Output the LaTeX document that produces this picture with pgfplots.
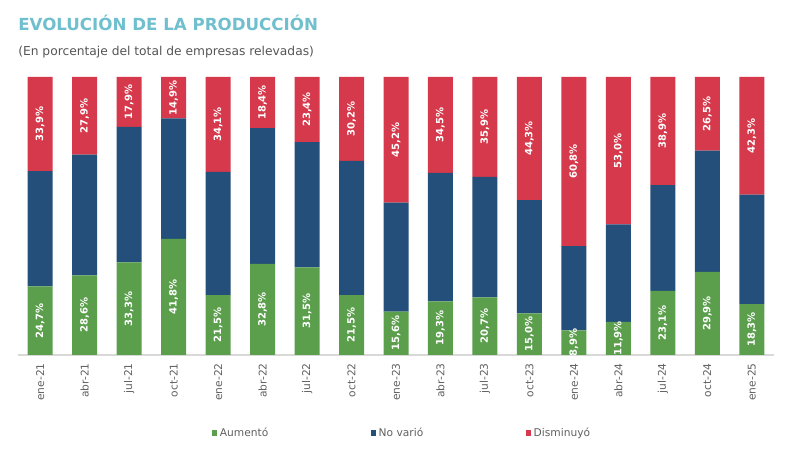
\documentclass[border=0pt]{standalone}
\usepackage{pgfplots}
\usepackage{pgfplotstable}
\pgfplotsset{compat=1.18}
\usepackage{fontspec}
\setmainfont{DejaVu Sans}

\definecolor{aumento}{HTML}{5B9F4D}
\definecolor{novario}{HTML}{244F7A}
\definecolor{disminuyo}{HTML}{D6394B}
\definecolor{titulo}{HTML}{6FBFCE}
\definecolor{texto}{HTML}{555555}
\definecolor{ticks}{HTML}{606060}
\definecolor{eje}{HTML}{D9D9D9}

% Share of surveyed firms (%) by quarter
\pgfplotstableread{
x  aum  nov  dis
0  24.7 41.4 33.9
1  28.6 43.5 27.9
2  33.3 48.8 17.9
3  41.8 43.3 14.9
4  21.5 44.4 34.1
5  32.8 48.8 18.4
6  31.5 45.1 23.4
7  21.5 48.3 30.2
8  15.6 39.2 45.2
9  19.3 46.2 34.5
10 20.7 43.4 35.9
11 15.0 40.7 44.3
12 8.9  30.3 60.8
13 11.9 35.1 53.0
14 23.1 38.0 38.9
15 29.9 43.6 26.5
16 18.3 39.4 42.3
}\datos

\begin{document}
\begin{tikzpicture}
\useasboundingbox (0,0) rectangle (594.75pt,342pt);
\node[anchor=base west, inner sep=0pt, text=titulo, font=\bfseries\fontsize{12.5}{14}\selectfont]
  at (13.5pt,318.75pt) {EVOLUCIÓN DE LA PRODUCCIÓN};
\node[anchor=base west, inner sep=0pt, text=texto, font=\fontsize{9.2}{11}\selectfont]
  at (13.5pt,300.5pt) {(En porcentaje del total de empresas relevadas)};
\begin{axis}[
  at={(13.5pt,75.75pt)}, anchor=south west,
  scale only axis, width=567pt, height=208.5pt,
  clip=false,
  ybar stacked, bar width=18.75pt,
  xmin=-0.5, xmax=16.5, ymin=0, ymax=100,
  axis y line=none, axis x line*=bottom,
  x axis line style={draw=eje, line width=0.8pt},
  xtick align=outside,
  major tick length=6pt,
  xtick style={draw=none},
  xtick={0,...,16},
  xticklabels={ene-21,abr-21,jul-21,oct-21,ene-22,abr-22,jul-22,oct-22,ene-23,abr-23,jul-23,oct-23,ene-24,abr-24,jul-24,oct-24,ene-25},
  xticklabel style={rotate=90, anchor=east, inner sep=0pt, text=ticks, font=\fontsize{8}{9}\selectfont},
  ytick=\empty,
  point meta=explicit,
  nodes near coords={\pgfmathprintnumber[fixed,fixed zerofill,precision=1,use comma,assume math mode=true]{\pgfplotspointmeta}\%},
  every node near coord/.append style={rotate=90, anchor=center, inner sep=0pt, text=white, font=\bfseries\fontsize{7.5}{9}\selectfont},
  legend columns=3,
  legend cell align=left,
  legend style={at={(0.2566,-0.2806)}, anchor=west, draw=none, fill=none, inner sep=0pt,
    font=\fontsize{8}{10}\selectfont, text=ticks,
    /tikz/every even column/.append style={column sep=75pt}},
]
\addplot[fill=aumento, draw=none, legend image code/.code={\fill[aumento] (0pt,-1.9pt) rectangle (3.75pt,1.9pt);}]
  table[x=x, y=aum, meta=aum]{\datos};
\addlegendentry{Aumentó}
\addplot[fill=novario, draw=none, nodes near coords={}, legend image code/.code={\fill[novario] (0pt,-1.9pt) rectangle (3.75pt,1.9pt);}]
  table[x=x, y=nov, meta=nov]{\datos};
\addlegendentry{No varió}
\addplot[fill=disminuyo, draw=none, legend image code/.code={\fill[disminuyo] (0pt,-1.9pt) rectangle (3.75pt,1.9pt);}]
  table[x=x, y=dis, meta=dis]{\datos};
\addlegendentry{Disminuyó}
\end{axis}
\end{tikzpicture}
\end{document}
